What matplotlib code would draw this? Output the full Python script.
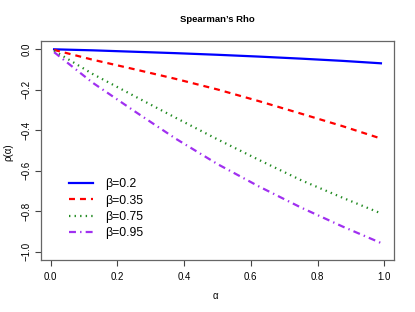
import numpy as np
import matplotlib
matplotlib.use('Agg')
import matplotlib.pyplot as plt

# --------------------------------------------------------------------------- #
# Values.
alpha = [0.01, 0.125, 0.25, 0.375, 0.5, 0.625, 0.75, 0.875, 0.99]
rho_b020 = [-0.001, -0.006, -0.013, -0.020, -0.028, -0.037, -0.047, -0.058, -0.070]
rho_b035 = [-0.004, -0.052, -0.099, -0.147, -0.199, -0.257, -0.318, -0.380, -0.441]
rho_b075 = [-0.008, -0.122, -0.231, -0.339, -0.445, -0.547, -0.646, -0.733, -0.810]
rho_b095 = [-0.015, -0.165, -0.305, -0.442, -0.567, -0.678, -0.781, -0.875, -0.956]
labels = ['\u03b2=0.2', '\u03b2=0.35', '\u03b2=0.75', '\u03b2=0.95']
xticks = [0.0, 0.2, 0.4, 0.6, 0.8, 1.0]
yticks = [0.0, -0.2, -0.4, -0.6, -0.8, -1.0]

# --------------------------------------------------------------------------- #
plt.rcParams['font.family'] = ['Liberation Sans', 'DejaVu Sans']
plt.rcParams['lines.scale_dashes'] = False

fig = plt.figure(figsize=(4.15, 3.12), dpi=100)
ax = fig.add_axes([0.0988, 0.1667, 0.8506, 0.7019])

ax.plot(alpha, rho_b020, color='blue', lw=1.6, ls='-', label=labels[0])
ax.plot(alpha, rho_b035, color='red', lw=1.6, ls=(0, (4.3, 3.6)), label=labels[1])
ax.plot(alpha, rho_b075, color='forestgreen', lw=1.6, ls=(0, (1.0, 3.0)),
        label=labels[2])
ax.plot(alpha, rho_b095, color='#a030f0', lw=1.6, ls=(0, (5.0, 3.0, 1.0, 3.0)),
        label=labels[3])

ax.set_xlim(-0.0292, 1.0292)
ax.set_ylim(-1.04, 0.04)
ax.set_xticks(xticks)
ax.set_yticks(yticks)
ax.set_xticklabels(['%.1f' % t for t in xticks])
ax.set_yticklabels([('%.1f' % t).replace('-', '\u2212') if t != 0 else '0.0'
                    for t in yticks], rotation=90, va='center')
ax.tick_params(direction='out', length=4, width=0.8, color='#444444',
               labelsize=7)
ax.tick_params(axis='x', pad=5)
ax.tick_params(axis='y', pad=3)
for s in ax.spines.values():
    s.set_color('#666666')
    s.set_linewidth(0.9)

fig.text(0.523, 0.936, "Spearman\u2019s Rho", ha='center', va='center',
         fontsize=6.8, fontweight='bold')
fig.text(0.52, 0.051, '\u03b1', ha='center', va='center', fontsize=7)
fig.text(0.019, 0.513, '\u03c1(\u03b1)', ha='center', va='center', fontsize=7,
         rotation=90)

ax.legend(loc='upper left', bbox_to_anchor=(0.065, 0.395), frameon=False,
          fontsize=8.8, handlelength=1.97, handletextpad=1.0,
          labelspacing=0.35, borderaxespad=0)

fig.savefig('out.png', dpi=100)
